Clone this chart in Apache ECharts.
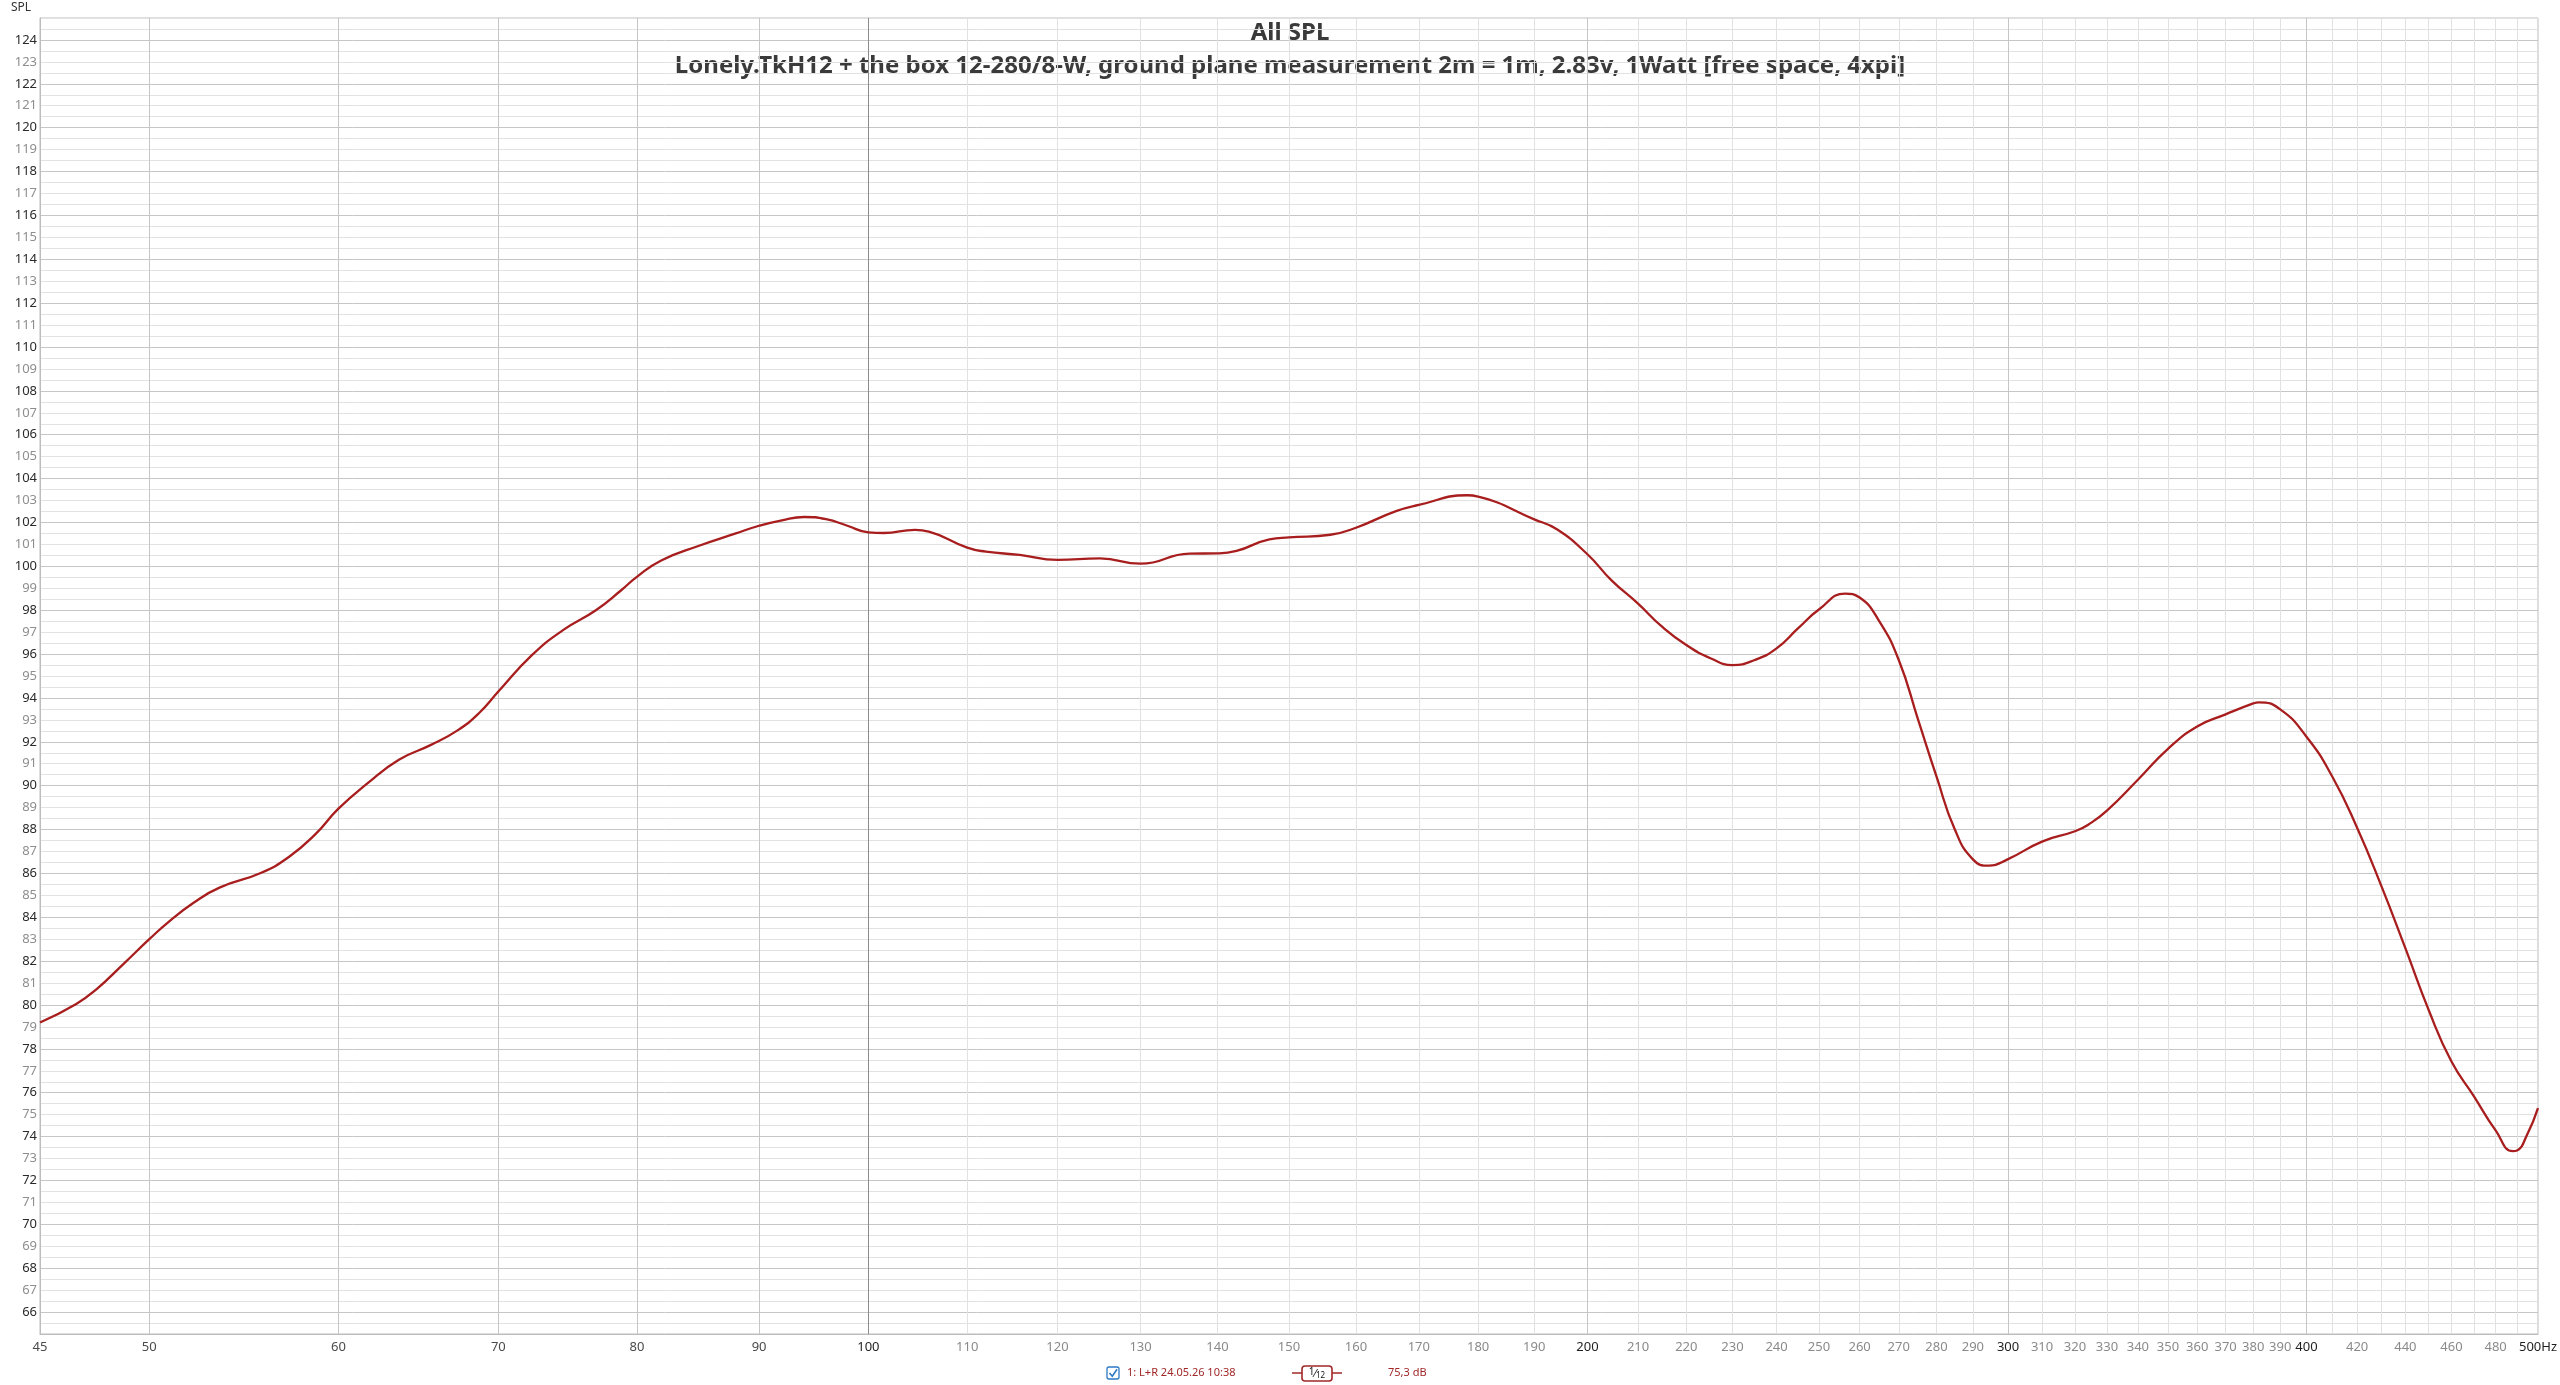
<!DOCTYPE html>
<html><head><meta charset="utf-8">
<script src="https://cdn.jsdelivr.net/npm/echarts@6/dist/echarts.min.js"></script>
<style>html,body{margin:0;padding:0;background:#fff}#c{width:2560px;height:1385px}</style>
</head><body><div id="c"></div>
<script>
// ---- data ----
const freqs = [45,46.6,47.5,48.8,50,50.9,52.2,53.5,55.7,57.2,58.7,60,61.7,63.6,65.6,67.3,68.7,70,72.3,74.5,76.9,78.8,80,81.9,85,88,90,92,94,96,98,100,101.5,104.6,106,110,112,115.7,120,125,130,136.3,140,142.6,147.2,150,156.1,160,166.3,170,178.1,180,190,194.2,200,204.7,210,214.8,220,225.3,230,235,240,245,250,256.4,260,264.8,270,275.1,280,285,290,294.6,300,310,320,324.2,330,340,350,360,370,380,382,390,400,410,420,430,440,450,460,470,480,488,490,495,500];
const spl = [79.2,80.05,80.7,81.9,83.0,83.76,84.67,85.35,86.03,86.75,87.8,88.95,90.1,91.18,91.86,92.52,93.3,94.29,95.95,97.09,98.0,98.91,99.52,100.27,100.95,101.5,101.85,102.1,102.25,102.15,101.85,101.55,101.52,101.66,101.58,100.85,100.67,100.52,100.29,100.36,100.12,100.58,100.59,100.7,101.23,101.32,101.44,101.76,102.52,102.8,103.24,103.18,102.14,101.69,100.55,99.36,98.3,97.27,96.41,95.8,95.5,95.73,96.26,97.17,98.03,98.76,98.58,97.55,95.73,93.0,90.42,88.0,86.64,86.35,86.65,87.45,87.92,88.23,88.86,90.27,91.68,92.7,93.25,93.75,93.8,93.48,92.23,90.43,88.08,85.41,82.59,79.77,77.42,75.85,74.28,73.34,73.37,74.13,75.3];
const xLabelTicks = [45,50,60,70,80,90,100,110,120,130,140,150,160,170,180,190,200,210,220,230,240,250,260,270,280,290,300,310,320,330,340,350,360,370,380,390,400,420,440,460,480,500];
const xBoldLabels = [100,200,300,400,500];
const xMidLabels = [45,50,60,70,80,90];
const xLightLines = [110,120,130,140,150,160,170,180,190,210,220,230,240,250,260,270,280,290,310,320,330,340,350,360,370,380,390,410,420,430,440,450,460,470,480,490];
const xMediumLines = [50,60,70,80,90,200,300,400];
const xDarkLines = [100];
const yMin = 65, yMax = 125, yStep = 0.5;
const titleText = 'All SPL';
const subtitleText = 'Lonely.TkH12 + the box 12-280/8-W, ground plane measurement 2m = 1m, 2.83v, 1Watt [free space, 4xpi]';
const legendName = '1: L+R 24.05.26 10:38';
const legendValue = '75,3 dB';

// ---- chart ----
const FONT = '"Noto Sans", "Open Sans", sans-serif';
const chart = echarts.init(document.getElementById('c'), null, {renderer: 'canvas'});
const gridBox = {left: 40, right: 19, top: 18, bottom: 51};

function gridAxis(values, color) {
  return {
    type: 'log', logBase: 10, min: 45, max: 500, gridIndex: 0,
    axisLine: {show: false}, axisLabel: {show: false},
    axisTick: {show: false, customValues: values},
    splitLine: {show: true, lineStyle: {color: color, width: 1}}
  };
}

const option = {
  backgroundColor: '#ffffff',
  animation: false,
  grid: Object.assign({show: true, borderColor: '#bdbdbd', borderWidth: 1, backgroundColor: 'transparent'}, gridBox),
  xAxis: [
    {
      type: 'log', logBase: 10, min: 45, max: 500, gridIndex: 0,
      axisLine: {show: true, lineStyle: {color: '#bdbdbd'}},
      axisTick: {show: false, customValues: xLabelTicks},
      splitLine: {show: false},
      axisLabel: {
        show: true, customValues: xLabelTicks, margin: 7,
        fontFamily: FONT, fontSize: 13,
        formatter: function (v) {
          const r = Math.round(v);
          if (r === 500) return '{b|500Hz}';
          if (xBoldLabels.indexOf(r) >= 0) return '{b|' + r + '}';
          if (xMidLabels.indexOf(r) >= 0) return '{m|' + r + '}';
          return '{g|' + r + '}';
        },
        rich: {
          b: {color: '#1e1e1e', fontFamily: FONT, fontSize: 13},
          m: {color: '#4a4a4a', fontFamily: FONT, fontSize: 13},
          g: {color: '#8a8a8a', fontFamily: FONT, fontSize: 13}
        }
      }
    },
    gridAxis(xLightLines, '#e2e2e2'),
    gridAxis(xMediumLines, '#c6c6c6'),
    gridAxis(xDarkLines, '#8c8c8c')
  ],
  yAxis: [{
    type: 'value', min: yMin, max: yMax, interval: yStep,
    axisLine: {show: true, lineStyle: {color: '#bdbdbd'}},
    axisTick: {show: false},
    splitLine: {show: true, lineStyle: {color: ['#e2e2e2', '#e2e2e2', '#c6c6c6', '#e2e2e2'], width: 1}},
    axisLabel: {
      margin: 3, fontFamily: FONT, fontSize: 13,
      formatter: function (v) {
        if (Math.abs(v - Math.round(v)) > 1e-6) return '';
        const r = Math.round(v);
        if (r <= yMin || r >= yMax) return '';
        return r % 2 === 0 ? '{e|' + r + '}' : '{o|' + r + '}';
      },
      rich: {
        e: {color: '#2a2a2a', fontFamily: FONT, fontSize: 13},
        o: {color: '#8e8e8e', fontFamily: FONT, fontSize: 13}
      }
    }
  }],
  series: [{
    name: legendName,
    type: 'line',
    xAxisIndex: 0, yAxisIndex: 0,
    data: freqs.map((f, i) => [f, spl[i]]),
    showSymbol: false,
    smooth: 0.5,
    lineStyle: {color: '#a81e1e', width: 2.3},
    z: 10
  }],
  graphic: [
    {type: 'text', x: 11, y: 8, style: {text: 'SPL', font: '12px ' + FONT, fill: '#333', textVerticalAlign: 'middle'}},
    {type: 'text', x: 1290, y: 33, style: {text: titleText, font: 'bold 24px ' + FONT, fill: '#3a3a3a', textAlign: 'center', textVerticalAlign: 'middle'}},
    {type: 'text', x: 1290, y: 66, style: {text: subtitleText, font: 'bold 24px ' + FONT, fill: '#3a3a3a', textAlign: 'center', textVerticalAlign: 'middle'}},
    // legend row
    {type: 'rect', shape: {x: 1107, y: 1367, width: 12, height: 12, r: 2}, style: {fill: '#fff', stroke: '#2b78c5', lineWidth: 1.3}},
    {type: 'polyline', shape: {points: [[1109.5, 1373], [1112.3, 1376.2], [1117, 1369.3]]}, style: {fill: null, stroke: '#2b78c5', lineWidth: 1.6}},
    {type: 'text', x: 1127, y: 1373, style: {text: legendName, font: '11px ' + FONT, fill: '#a0282a', textVerticalAlign: 'middle'}},
    {type: 'line', shape: {x1: 1292, y1: 1373, x2: 1342, y2: 1373}, style: {stroke: '#a0282a', lineWidth: 1.6}},
    {type: 'rect', shape: {x: 1302, y: 1366, width: 30, height: 15, r: 3}, style: {fill: '#fff', stroke: '#a0282a', lineWidth: 1.6}},
    {type: 'text', x: 1317, y: 1373.5, style: {text: '{a|1}{s|⁄}{c|12}', textAlign: 'center', textVerticalAlign: 'middle', rich: {a: {fontSize: 10, fontFamily: FONT, fill: '#111', verticalAlign: 'top', padding: [0, 0, 3, 0]}, s: {fontSize: 11, fontFamily: FONT, fill: '#111'}, c: {fontSize: 8, fontFamily: FONT, fill: '#111', padding: [4, 0, 0, 0]}}}},
    {type: 'text', x: 1388, y: 1373, style: {text: legendValue, font: '11px ' + FONT, fill: '#a0282a', textVerticalAlign: 'middle'}}
  ]
};
chart.setOption(option);
</script>
</body></html>
